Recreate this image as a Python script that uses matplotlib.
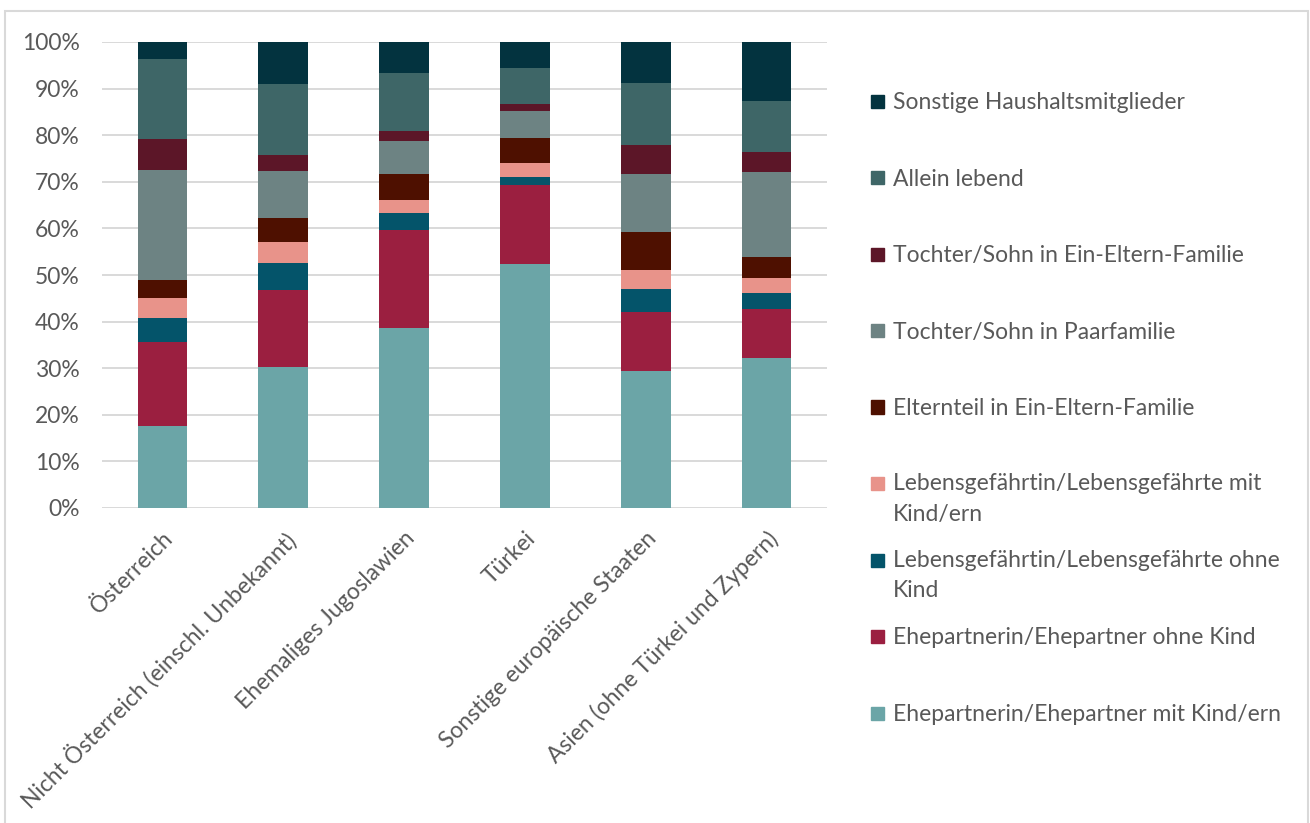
import numpy as np
import matplotlib
matplotlib.use('Agg')
import matplotlib.pyplot as plt
from matplotlib.patches import Rectangle

plt.rcParams['font.family'] = ['Lato', 'DejaVu Sans']

# Herkunftsländer
laender = ["Österreich", "Nicht Österreich (einschl. Unbekannt)", "Ehemaliges Jugoslawien",
           "Türkei", "Sonstige europäische Staaten", "Asien (ohne Türkei und Zypern)"]

# Anteile in Prozent, von unten nach oben gestapelt
ep_mit_kind = [17.5, 30.2, 38.7, 52.4, 29.4, 32.2]
ep_ohne_kind = [18.1, 16.5, 21.0, 16.9, 12.7, 10.5]
lg_ohne_kind = [5.1, 5.9, 3.5, 1.8, 4.8, 3.4]
lg_mit_kind = [4.3, 4.4, 3.0, 2.9, 4.1, 3.2]
elternteil_eef = [4.0, 5.3, 5.5, 5.3, 8.2, 4.5]
kind_paar = [23.5, 10.0, 7.1, 6.0, 12.5, 18.2]
kind_eef = [6.6, 3.4, 2.0, 1.5, 6.2, 4.5]
allein = [17.2, 15.3, 12.5, 7.6, 13.4, 10.8]
sonstige = [3.7, 9.0, 6.7, 5.6, 8.7, 12.7]

serien = [ep_mit_kind, ep_ohne_kind, lg_ohne_kind, lg_mit_kind, elternteil_eef,
          kind_paar, kind_eef, allein, sonstige]
namen = ["Ehepartnerin/Ehepartner mit Kind/ern", "Ehepartnerin/Ehepartner ohne Kind",
         "Lebensgefährtin/Lebensgefährte ohne\nKind", "Lebensgefährtin/Lebensgefährte mit\nKind/ern",
         "Elternteil in Ein-Eltern-Familie", "Tochter/Sohn in Paarfamilie",
         "Tochter/Sohn in Ein-Eltern-Familie", "Allein lebend", "Sonstige Haushaltsmitglieder"]
farben = ["#6BA5A7", "#9B1F40", "#04546A", "#E8938A", "#4E1000",
          "#6D8383", "#5C1628", "#3E6667", "#03333F"]

grau = "#595959"

fig = plt.figure(figsize=(13.1, 8.23), dpi=100)
ax = fig.add_axes([102/1310, 1-508/823, 725/1310, 466/823])

x = np.arange(len(laender))
unten = np.zeros(len(laender))
for werte, name, farbe in zip(serien, namen, farben):
    ax.bar(x, werte, bottom=unten, width=0.41, color=farbe, label=name, zorder=3)
    unten += np.array(werte)

ax.set_xlim(-0.5, len(laender)-0.5)
ax.set_ylim(0, 100)
ax.set_yticks(np.arange(0, 101, 10))
ax.set_yticklabels([f"{v}%" for v in range(0, 101, 10)], fontsize=16.5, color=grau)
ax.set_xticks(x)
ax.set_xticklabels(laender, rotation=45, ha='right', rotation_mode='anchor',
                   fontsize=16.5, color=grau)
ax.tick_params(axis='y', length=0, pad=16)
ax.tick_params(axis='x', length=0, pad=14)
ax.grid(axis='y', color='#D9D9D9', linewidth=1.4, zorder=0)
for s in ax.spines.values():
    s.set_visible(False)

# Legende (umgekehrte Reihenfolge, wie im Original)
y0 = 1 - 101/823
schritt = 76.5/823
for i, (name, farbe) in enumerate(zip(namen[::-1], farben[::-1])):
    y = y0 - i*schritt
    fig.patches.append(Rectangle((871/1310, y - 6.5/823), 13/1310, 13/823,
                                 transform=fig.transFigure, color=farbe))
    if "\n" in name:
        fig.text(893/1310, y + 10/823, name, ha='left', va='top', fontsize=16.5,
                 color=grau, linespacing=1.55)
    else:
        fig.text(893/1310, y - 1.5/823, name, ha='left', va='center', fontsize=16.5, color=grau)

# Rahmen des Diagrammbereichs
fig.patches.append(Rectangle((5/1310, -0.05), 1303/1310, 1.05 - 11/823, transform=fig.transFigure,
                             fill=False, edgecolor='#D9D9D9', linewidth=1.5))

fig.savefig("out.png", dpi=100)
